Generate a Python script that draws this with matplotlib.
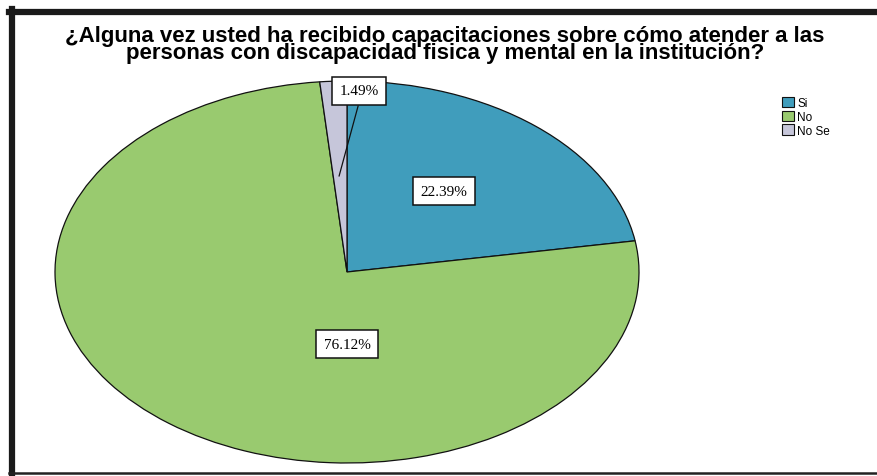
import matplotlib
matplotlib.use("Agg")
import matplotlib.pyplot as plt
from matplotlib.patches import Patch
from matplotlib.lines import Line2D

categories = ["Si", "No", "No Se"]
values = [22.39, 76.12, 1.49]
value_labels = ["22.39%", "76.12%", "1.49%"]
colors = ["#409DBC", "#99CA6F", "#C6C6DA"]
title_text = ("¿Alguna vez usted ha recibido capacitaciones sobre cómo atender a las\n"
              "personas con discapacidad fisica y mental en la institución?")

W, H = 877, 477
fig = plt.figure(figsize=(W / 100, H / 100), dpi=100)
fig.patch.set_facecolor("white")

# Frame lines
frame_ax = fig.add_axes([0, 0, 1, 1])
frame_ax.set_xlim(0, W)
frame_ax.set_ylim(H, 0)
frame_ax.axis("off")
frame_ax.add_line(Line2D([9, W], [13, 13], color="#1a1a1a", lw=4.5))
frame_ax.add_line(Line2D([12, 12], [10, 475], color="#1a1a1a", lw=4.5))
frame_ax.add_line(Line2D([9, W], [474, 474], color="#222222", lw=1.8))

# Title
fig.text(445 / W, 1 - 45 / H, title_text,
         ha="center", va="center", fontsize=16, fontweight="bold",
         family="Liberation Sans", linespacing=0.8, multialignment="center")

# Pie (elliptical)
cx, cy, rx, ry = 347, 273, 292, 191
ax = fig.add_axes([(cx - rx) / W, (H - cy - ry) / H, 2 * rx / W, 2 * ry / H])
wedges, _ = ax.pie(values, colors=colors, startangle=90, counterclock=False,
                   wedgeprops=dict(edgecolor="#111111", linewidth=0.9))
ax.set_aspect("auto")
ax.set_xlim(-1, 1)
ax.set_ylim(-1, 1)
ax.axis("off")

label_pos = [(0.333, 0.424), (0.0, -0.377), (0.041, 0.948)]
for (lx, ly), txt in zip(label_pos, value_labels):
    ax.text(lx, ly, txt, ha="center", va="center", fontsize=11,
            family="Liberation Serif", zorder=5,
            bbox=dict(boxstyle="square,pad=0.5", facecolor="white",
                      edgecolor="#111111", linewidth=1.1))
# leader line for small slice
ax.plot([0.038, -0.027], [0.869, 0.503], color="#111111", lw=0.9, zorder=4)

# Legend
handles = [Patch(facecolor=c, edgecolor="#111111", linewidth=0.8) for c in colors]
fig.legend(handles, categories, loc="upper left",
           bbox_to_anchor=(776 / W, 1 - 92 / H), frameon=False,
           prop=dict(family="Liberation Sans", size=8.5),
           handlelength=1.0, handleheight=1.0, handletextpad=0.3,
           labelspacing=0.12, borderpad=0.0)

fig.savefig("out.png", dpi=100)
